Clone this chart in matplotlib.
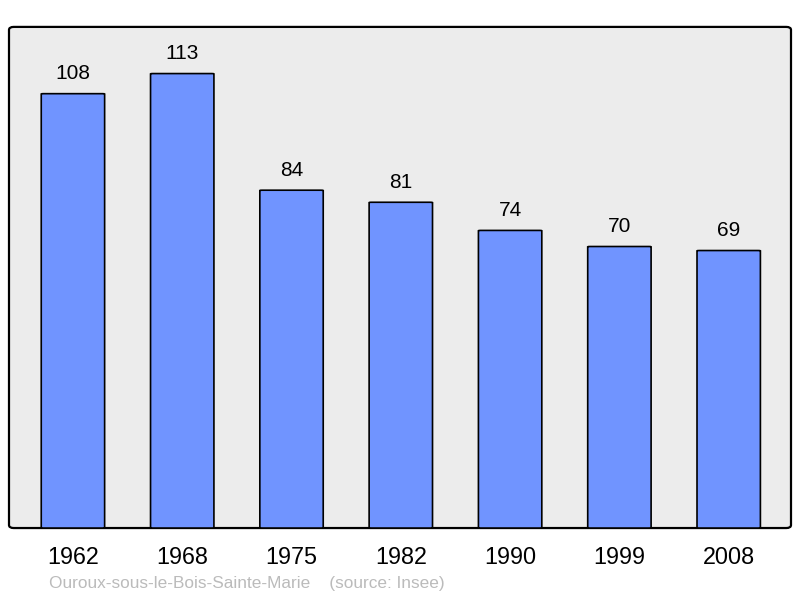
import numpy as np
import matplotlib.pyplot as plt
from matplotlib.patches import FancyBboxPatch

years = ['1962', '1968', '1975', '1982', '1990', '1999', '2008']
population = [108, 113, 84, 81, 74, 70, 69]
town = 'Ouroux-sous-le-Bois-Sainte-Marie'
source = '(source: Insee)'

plt.rcParams['font.family'] = ['Liberation Sans', 'DejaVu Sans']

fig = plt.figure(figsize=(8, 5.98), dpi=100)
ax = fig.add_axes([0.01125, 0.117, 0.9775, 0.838])
ax.set_facecolor('none')

# rounded background frame
bg = FancyBboxPatch((0, 0), 1, 1, boxstyle='round,pad=0,rounding_size=0.006',
                    transform=ax.transAxes, facecolor='#ececec', edgecolor='black',
                    linewidth=1.6, zorder=0, clip_on=False)
ax.add_patch(bg)

x = np.arange(len(years))
w = 0.58
for xi, v in zip(x, population):
    bar = FancyBboxPatch((xi - w / 2, 0), w, v,
                         boxstyle='round,pad=0,rounding_size=0.02',
                         mutation_aspect=4,
                         facecolor='#7094ff', edgecolor='black', linewidth=1.2, zorder=2)
    ax.add_patch(bar)
    ax.text(xi, v + 5.0, str(v), ha='center', va='center', fontsize=15, zorder=3)

ax.set_xlim(-0.585, 6.57)
ax.set_ylim(0, 124.6)
for s in ax.spines.values():
    s.set_visible(False)
ax.set_xticks(x)
ax.set_xticklabels(years, fontsize=16.8)
ax.tick_params(axis='x', length=0, pad=13)
ax.set_yticks([])

fig.text(0.061, 0.024, town + '    ' + source, color='#bbbbbb', fontsize=12.4,
         va='center')

plt.savefig('out.png', dpi=100)
